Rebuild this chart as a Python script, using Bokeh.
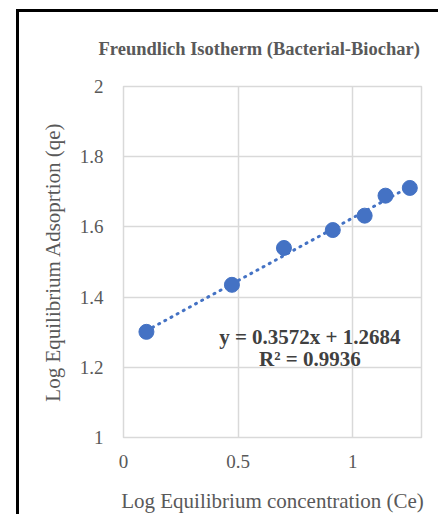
import numpy as np
from bokeh.plotting import figure
from bokeh.models import Label, FixedTicker, Range1d, Title
from bokeh.embed import file_html
from bokeh.resources import INLINE

# ---- data ----
log_ce = [0.10, 0.473, 0.700, 0.913, 1.052, 1.143, 1.249]
log_qe = [1.301, 1.435, 1.540, 1.591, 1.632, 1.689, 1.711]
slope = 0.3572
intercept = 1.2684
eq_text = "y = 0.3572x + 1.2684"
r2_text = "R\u00b2 = 0.9936"
x_ticks = [0, 0.5, 1]
x_tick_labels = ["0", "0.5", "1"]
y_ticks = [1, 1.2, 1.4, 1.6, 1.8, 2]
y_tick_labels = ["1", "1.2", "1.4", "1.6", "1.8", "2"]
title_text = "Freundlich Isotherm (Bacterial-Biochar)"
x_title = "Log Equilibrium concentration (Ce)"
y_title = "Log Equilibrium Adsoprtion (qe)"

FONT = "Liberation Serif"
GRAY = "#595959"
GRID = "#D9D9D9"
BLUE = "#4472C4"

p = figure(frame_width=298, frame_height=351,
           min_border_left=104, min_border_right=20,
           min_border_top=69, min_border_bottom=80,
           x_range=Range1d(0, 1.3), y_range=Range1d(1, 2),
           output_backend="svg", toolbar_location=None)
p.styles = {"box-shadow": "-3px -3px 0px 0px black",
            "margin-left": "19px", "margin-top": "12px",
            "margin-right": "-60px"}
p.title = Title(text=title_text, align="left", offset=-25, standoff=52,
                vertical_align="top",
                text_font=FONT, text_font_size="18.5px", text_font_style="bold",
                text_color=GRAY)

p.outline_line_color = GRID
p.outline_line_width = 1.5
p.background_fill_color = "white"
p.border_fill_color = "white"

for ax in (p.xaxis[0], p.yaxis[0]):
    ax.axis_line_color = None
    ax.major_tick_line_color = None
    ax.minor_tick_line_color = None
    ax.major_tick_out = 0
    ax.major_tick_in = 0
    ax.major_label_text_font = FONT
    ax.major_label_text_font_size = "19px"
    ax.major_label_text_color = GRAY
    ax.axis_label_text_font = FONT
    ax.axis_label_text_font_size = "21px"
    ax.axis_label_text_font_style = "normal"
    ax.axis_label_text_color = GRAY

p.xaxis.ticker = FixedTicker(ticks=x_ticks)
p.xaxis.major_label_overrides = {t: l for t, l in zip(x_ticks, x_tick_labels)}
p.yaxis.ticker = FixedTicker(ticks=y_ticks)
p.yaxis.major_label_overrides = {t: l for t, l in zip(y_ticks, y_tick_labels)}
p.xaxis.axis_label = x_title
p.yaxis.axis_label = y_title
p.xaxis.major_label_standoff = 17
p.yaxis.major_label_standoff = 20
p.xaxis.axis_label_standoff = 18
p.yaxis.axis_label_standoff = 12

p.xgrid.grid_line_color = GRID
p.ygrid.grid_line_color = GRID
p.xgrid.grid_line_width = 1.5
p.ygrid.grid_line_width = 1.5

# trendline from the fitted equation over the data range
tx = np.array([min(log_ce), max(log_ce)])
ty = slope * tx + intercept
p.line(tx, ty, line_color=BLUE, line_width=3, line_dash="1 6", line_cap="round")

p.scatter(log_ce, log_qe, size=15, fill_color=BLUE, line_color=BLUE)

p.add_layout(Label(x=0.813, y=1.2855, text=eq_text, text_align="center",
                   text_baseline="alphabetic", text_font=FONT, text_font_size="21px",
                   text_font_style="bold", text_color="#404040"))
p.add_layout(Label(x=0.813, y=1.2234, text=r2_text, text_align="center",
                   text_baseline="alphabetic", text_font=FONT, text_font_size="21px",
                   text_font_style="bold", text_color="#404040"))

open("out.html", "w").write(file_html(p, INLINE))
